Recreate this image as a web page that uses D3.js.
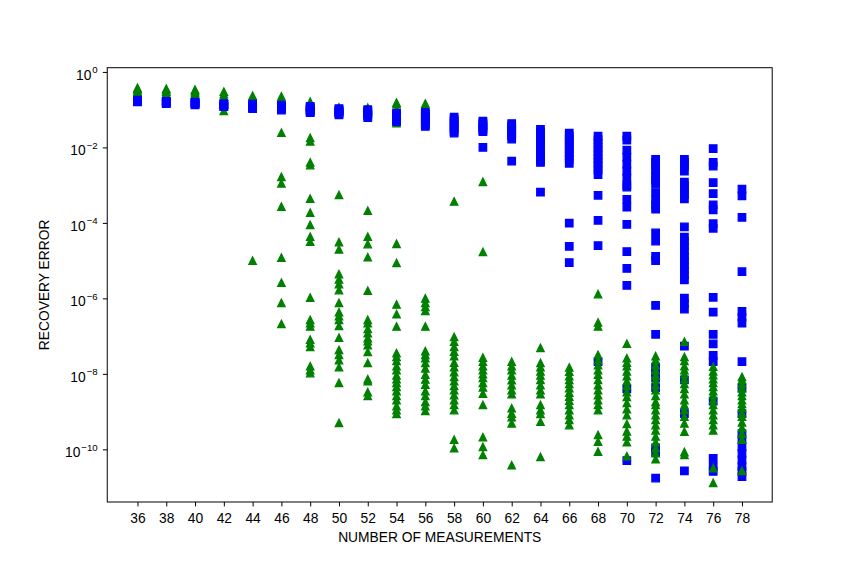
<!DOCTYPE html>
<html>
  <head>
    <meta charset="UTF-8">
    <title>Recovery error</title>

    <!-- load D3 -->
    <script src="https://cdn.jsdelivr.net/npm/d3@7"></script>

    <style>
      body { margin: 0; background: #ffffff; }
      svg  { display: block; font-family: "Liberation Sans", Arial, sans-serif; }
    </style>
  </head>

  <body>
    <script>
      // x categories: number of measurements
      var measurements = [36, 38, 40, 42, 44, 46, 48, 50, 52, 54, 56, 58, 60, 62, 64, 66, 68, 70, 72, 74, 76, 78];

      // y ticks (powers of ten)
      var yTickExponents = [0, -2, -4, -6, -8, -10];

      // blue squares, one list of trials per column
      var squareErrors = [
        [0.178, 0.174, 0.170, 0.166, 0.162],
        [0.166, 0.160, 0.155, 0.150, 0.145],
        [0.158, 0.152, 0.146, 0.140, 0.135],
        [0.145, 0.138, 0.131, 0.125, 0.120],
        [0.140, 0.132, 0.125, 0.118, 0.112, 0.107],
        [0.132, 0.125, 0.118, 0.111, 0.104, 0.098],
        [0.123, 0.115, 0.107, 0.100, 0.094, 0.088, 0.083],
        [0.107, 0.100, 0.095, 0.090, 0.085, 0.079, 0.073],
        [0.100, 0.093, 0.087, 0.080, 0.074, 0.068, 0.062],
        [0.081, 0.074, 0.068, 0.062, 0.056, 0.051, 0.048],
        [0.085, 0.076, 0.068, 0.060, 0.053, 0.047, 0.041, 0.036],
        [0.063, 0.055, 0.048, 0.042, 0.036, 0.031, 0.027, 0.024],
        [0.050, 0.045, 0.040, 0.036, 0.032, 0.028, 0.026, 0.010],
        [0.043, 0.037, 0.032, 0.027, 0.023, 0.020, 0.0166, 4.3e-3],
        [0.030, 0.025, 0.020, 0.016, 0.013, 0.011, 8.5e-3, 7.0e-3, 5.5e-3, 4.5e-3, 4.0e-3, 6.5e-4],
        [0.024, 0.020, 0.016, 0.013, 0.011, 9.0e-3, 7.2e-3, 6.0e-3, 4.8e-3, 3.8e-3, 9.8e-5, 2.4e-5, 8.9e-6],
        [0.020, 0.016, 0.013, 0.010, 8.0e-3, 6.3e-3, 5.0e-3, 4.0e-3, 3.2e-3, 2.5e-3, 1.9e-3, 5.4e-4, 1.17e-4, 2.5e-5, 2.1e-8],
        [0.020, 0.0155, 8.5e-3, 5.5e-3, 3.6e-3, 2.35e-3, 1.55e-3, 1.0e-3, 8.9e-4, 4.2e-4, 2.6e-4, 9.1e-5, 1.74e-5, 6.2e-6, 2.2e-6, 4.0e-9, 5.0e-11],
        [4.8e-3, 4.0e-3, 3.2e-3, 2.4e-3, 1.8e-3, 1.35e-3, 1.07e-3, 6.3e-4, 4.0e-4, 3.0e-4, 2.3e-4, 5.4e-5, 3.3e-5, 1.3e-5, 1.0e-5, 6.5e-7, 1.12e-7, 1.5e-8, 1.12e-8, 7.8e-9, 4.3e-9, 1.1e-10, 8.3e-11, 1.74e-11],
        [4.8e-3, 4.0e-3, 3.2e-3, 2.35e-3, 1.2e-3, 9.5e-4, 7.4e-4, 5.6e-4, 4.3e-4, 7.8e-5, 4.2e-5, 3.2e-5, 2.4e-5, 1.8e-5, 1.3e-5, 1.0e-5, 7.4e-6, 5.6e-6, 4.2e-6, 3.1e-6, 1.02e-6, 7.4e-7, 5.2e-7, 5.4e-8, 6.9e-9, 8.9e-10, 2.7e-11],
        [9.3e-3, 4.0e-3, 3.2e-3, 1.17e-3, 6.0e-4, 3.0e-4, 2.2e-4, 9.5e-5, 7.2e-5, 1.07e-6, 4.3e-7, 1.12e-7, 6.2e-8, 3.1e-8, 2.1e-8, 1.9e-9, 5.8e-11, 3.5e-11, 2.6e-11],
        [7.9e-4, 5.2e-4, 1.4e-4, 5.1e-6, 4.5e-7, 3.2e-7, 2.2e-7, 2.1e-8, 4.2e-9, 8.9e-10, 2.6e-10, 1.8e-10, 1.17e-10, 7.8e-11, 5.2e-11, 3.5e-11, 2.6e-11, 1.9e-11]
      ];

      // green triangles, one list of trials per column
      var triangleErrors = [
        [0.38, 0.355, 0.33, 0.30, 0.275],
        [0.36, 0.33, 0.30, 0.27],
        [0.34, 0.31, 0.28, 0.25],
        [0.30, 0.26, 0.22, 0.18, 0.14, 0.093],
        [0.235, 0.20, 0.17, 0.14, 1.0e-5],
        [0.225, 0.19, 0.15, 0.12, 0.0245, 1.66e-3, 1.12e-3, 2.7e-4, 1.2e-5, 2.6e-6, 7.6e-7, 2.1e-7],
        [0.162, 0.14, 0.12, 0.10, 0.018, 0.0145, 4.0e-3, 3.4e-3, 4.4e-4, 1.86e-4, 8.9e-5, 4.3e-5, 3.2e-5, 1.05e-6, 2.7e-7, 2.2e-7, 1.8e-7, 8.1e-8, 6.5e-8, 5.2e-8, 1.6e-8, 1.26e-8, 1.05e-8],
        [0.115, 0.10, 0.09, 5.5e-4, 3.1e-5, 2.0e-5, 4.4e-6, 3.2e-6, 2.4e-6, 1.66e-6, 7.6e-7, 4.3e-7, 3.4e-7, 2.7e-7, 1.86e-7, 9.1e-8, 4.3e-8, 3.2e-8, 2.3e-8, 1.5e-8, 5.8e-9, 5.0e-10],
        [0.113, 0.10, 0.09, 2.1e-4, 4.3e-5, 2.75e-5, 1.23e-5, 1.6e-6, 2.7e-7, 2.2e-7, 1.55e-7, 1.2e-7, 8.9e-8, 7.4e-8, 5.8e-8, 3.8e-8, 1.95e-8, 7.2e-9, 6.4e-9, 3.3e-9, 2.6e-9],
        [0.154, 0.14, 0.10, 0.07, 0.044, 2.8e-5, 8.7e-6, 6.9e-7, 3.8e-7, 1.8e-7, 3.55e-8, 2.8e-8, 2.2e-8, 1.6e-8, 1.26e-8, 9.1e-9, 7.2e-9, 5.8e-9, 4.5e-9, 3.5e-9, 2.6e-9, 2.0e-9, 1.4e-9, 1.1e-9, 8.7e-10],
        [0.145, 0.12, 0.10, 1.0e-6, 7.6e-7, 6.0e-7, 4.7e-7, 1.8e-7, 4.0e-8, 3.2e-8, 2.6e-8, 1.95e-8, 1.4e-8, 9.5e-9, 7.1e-9, 5.2e-9, 3.5e-9, 2.6e-9, 1.8e-9, 1.4e-9, 1.05e-9],
        [3.7e-4, 9.5e-8, 7.1e-8, 5.2e-8, 3.9e-8, 2.95e-8, 2.0e-8, 1.5e-8, 1.12e-8, 8.3e-9, 6.4e-9, 4.8e-9, 3.7e-9, 2.75e-9, 2.0e-9, 1.5e-9, 1.1e-9, 1.8e-10, 1.07e-10],
        [1.23e-3, 1.7e-5, 2.7e-8, 2.1e-8, 1.6e-8, 1.26e-8, 9.8e-9, 7.8e-9, 5.8e-9, 4.4e-9, 3.0e-9, 1.5e-9, 2.1e-10, 1.17e-10, 7.1e-11],
        [2.1e-8, 1.6e-8, 1.26e-8, 9.1e-9, 6.8e-9, 5.0e-9, 3.7e-9, 2.9e-9, 1.23e-9, 8.9e-10, 7.1e-10, 4.9e-10, 3.8e-11],
        [4.9e-8, 1.95e-8, 1.5e-8, 1.17e-8, 9.1e-9, 6.9e-9, 5.0e-9, 3.7e-9, 2.9e-9, 1.5e-9, 1.1e-9, 8.7e-10, 5.4e-10, 6.3e-11],
        [1.48e-8, 1.15e-8, 8.7e-9, 6.9e-9, 5.4e-9, 4.2e-9, 3.2e-9, 2.5e-9, 1.95e-9, 1.5e-9, 1.1e-9, 8.1e-10, 6.0e-10, 4.4e-10],
        [1.3e-6, 2.3e-7, 1.8e-7, 3.2e-8, 2.3e-8, 1.7e-8, 1.26e-8, 9.5e-9, 6.9e-9, 5.0e-9, 3.7e-9, 2.75e-9, 2.0e-9, 1.5e-9, 1.1e-9, 2.4e-10, 1.6e-10, 8.7e-11],
        [6.3e-8, 2.6e-8, 2.0e-8, 1.6e-8, 1.17e-8, 8.7e-9, 6.4e-9, 4.8e-9, 3.3e-9, 2.45e-9, 1.7e-9, 1.17e-9, 8.1e-10, 4.7e-10, 3.0e-10, 2.2e-10, 1.55e-10, 6.6e-11],
        [2.95e-8, 2.3e-8, 1.7e-8, 1.26e-8, 9.1e-9, 6.9e-9, 5.0e-9, 3.7e-9, 2.6e-9, 1.8e-9, 1.5e-9, 1.1e-9, 8.1e-10, 6.0e-10, 4.4e-10, 3.2e-10, 2.2e-10, 1.55e-10, 1.07e-10, 7.9e-11, 5.5e-11],
        [7.1e-8, 2.8e-8, 2.2e-8, 1.6e-8, 1.26e-8, 9.8e-9, 7.2e-9, 5.4e-9, 4.0e-9, 2.9e-9, 2.0e-9, 1.5e-9, 1.1e-9, 7.4e-10, 4.9e-10, 2.95e-10, 8.5e-11, 7.1e-11],
        [1.55e-8, 1.17e-8, 9.3e-9, 7.2e-9, 5.8e-9, 4.5e-9, 3.5e-9, 2.75e-9, 2.0e-9, 1.5e-9, 1.1e-9, 8.1e-10, 6.0e-10, 4.4e-10, 3.2e-10, 3.2e-11, 1.3e-11],
        [8.3e-9, 6.9e-9, 5.4e-9, 4.2e-9, 3.3e-9, 2.6e-9, 2.0e-9, 1.6e-9, 1.26e-9, 9.1e-10, 7.4e-10, 5.2e-10, 3.7e-10, 2.6e-10, 1.8e-10, 2.7e-11]
      ];

      var width = 858;
      var height = 564;
      var plotLeft = 107.25;
      var plotRight = 772.2;
      var plotTop = 67.7;
      var plotBottom = 502;

      var markerSize = 7.5;
      var tickLength = 4.4;
      var fontSize = 13.8;

      var svg = d3.select("body").append("svg")
        .attr("width", width)
        .attr("height", height);

      var x = d3.scaleLinear()
        .domain([33.9, 80.1])
        .range([plotLeft, plotRight]);

      var y = d3.scaleLog()
        .domain([Math.pow(10, -11.395), Math.pow(10, 0.112)])
        .range([plotBottom, plotTop]);

      // flatten into points; big green ones sit under the blue, small green ones on top
      var points = [];
      measurements.forEach(function (m, i) {
        squareErrors[i].forEach(function (v) {
          points.push({ m: m, v: v, kind: "square", layer: 1 });
        });
        triangleErrors[i].forEach(function (v) {
          points.push({ m: m, v: v, kind: "triangle", layer: v >= 1e-2 ? 0 : 2 });
        });
      });
      points.sort(function (a, b) { return a.layer - b.layer; });

      function squarePath(cx, cy) {
        var h = markerSize / 2;
        return "M" + (cx - h) + "," + (cy - h) + "H" + (cx + h) + "V" + (cy + h) + "H" + (cx - h) + "Z";
      }

      function trianglePath(cx, cy) {
        var h = markerSize / 2;
        return "M" + cx + "," + (cy - h) + "L" + (cx - h) + "," + (cy + h) + "L" + (cx + h) + "," + (cy + h) + "Z";
      }

      svg.append("g")
        .selectAll("path")
        .data(points)
        .enter().append("path")
        .attr("d", function (d) {
          if (d.kind === "square") {
            return squarePath(x(d.m), y(d.v));
          }
          return trianglePath(x(d.m), y(d.v));
        })
        .style("fill", function (d) { return d.kind === "square" ? "#0000ff" : "#008000"; })
        .style("stroke", function (d) { return d.kind === "square" ? "#0000ff" : "#008000"; })
        .style("stroke-width", 1.25)
        .style("stroke-linejoin", "miter");

      // x axis
      var xAxis = svg.append("g")
        .attr("transform", "translate(0," + plotBottom + ")")
        .call(d3.axisBottom(x).tickValues(measurements).tickSize(tickLength).tickSizeOuter(0));
      xAxis.select(".domain").remove();
      xAxis.selectAll("line").attr("stroke", "#000").attr("stroke-width", 1);
      xAxis.selectAll("text")
        .attr("y", 21.3)
        .attr("dy", null)
        .attr("fill", "#000")
        .style("font-family", "Liberation Sans, Arial, sans-serif")
        .style("font-size", fontSize + "px");

      // y axis, labels written as 10 with a raised exponent
      var yAxis = svg.append("g")
        .attr("transform", "translate(" + plotLeft + ",0)")
        .call(d3.axisLeft(y)
          .tickValues(yTickExponents.map(function (e) { return Math.pow(10, e); }))
          .tickSize(tickLength)
          .tickSizeOuter(0)
          .tickFormat(""));
      yAxis.select(".domain").remove();
      yAxis.selectAll("line").attr("stroke", "#000").attr("stroke-width", 1);
      yAxis.selectAll(".tick text").remove();

      yAxis.selectAll(".tick")
        .data(yTickExponents)
        .append("text")
        .attr("x", -9.5)
        .attr("y", 7.2)
        .attr("text-anchor", "end")
        .attr("fill", "#000")
        .style("font-family", "Liberation Sans, Arial, sans-serif")
        .style("font-size", fontSize + "px")
        .each(function (e) {
          var t = d3.select(this);
          t.append("tspan").text("10");
          t.append("tspan")
            .attr("dx", 1)
            .attr("dy", -6.5)
            .style("font-size", "9.7px")
            .text(e === 0 ? "0" : "\u2212" + Math.abs(e));
        });

      // frame
      svg.append("rect")
        .attr("x", plotLeft)
        .attr("y", plotTop)
        .attr("width", plotRight - plotLeft)
        .attr("height", plotBottom - plotTop)
        .style("fill", "none")
        .style("stroke", "#000")
        .style("stroke-width", 1);

      // axis titles
      svg.append("text")
        .attr("x", (plotLeft + plotRight) / 2)
        .attr("y", 542)
        .attr("text-anchor", "middle")
        .style("font-family", "Liberation Sans, Arial, sans-serif")
        .style("font-size", fontSize + "px")
        .text("NUMBER OF MEASUREMENTS");

      svg.append("text")
        .attr("transform", "translate(48.5," + (plotTop + plotBottom) / 2 + ") rotate(-90)")
        .attr("text-anchor", "middle")
        .style("font-family", "Liberation Sans, Arial, sans-serif")
        .style("font-size", fontSize + "px")
        .text("RECOVERY ERROR");
    </script>
  </body>
</html>
